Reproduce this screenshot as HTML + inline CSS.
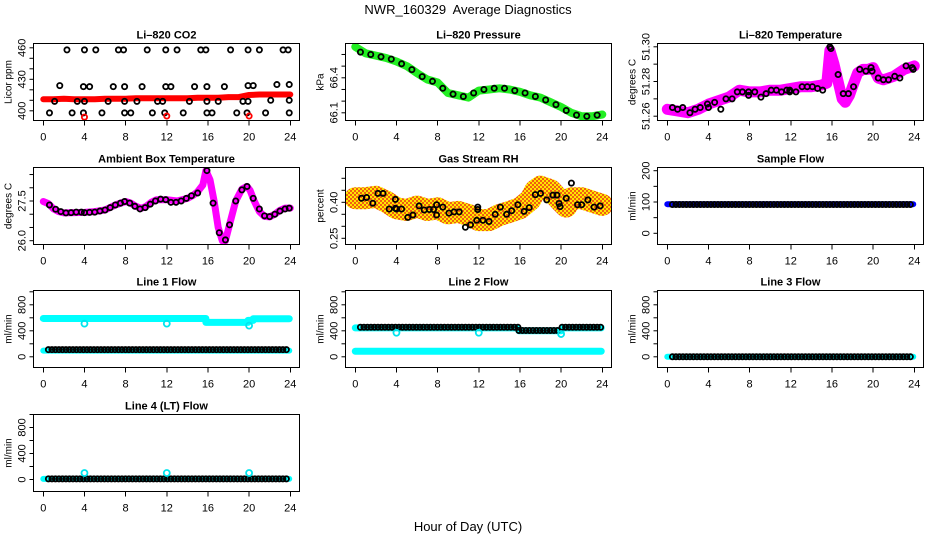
<!DOCTYPE html>
<html><head><meta charset="utf-8">
<style>
html,body{margin:0;padding:0;background:#fff;}
svg{display:block;font-family:"Liberation Sans",Arial,sans-serif;}
</style></head>
<body>
<svg id="chart" width="936" height="540" viewBox="0 0 936 540" xmlns="http://www.w3.org/2000/svg">
<defs>
<pattern id="rhpat" width="4" height="4" patternUnits="userSpaceOnUse">
<rect width="4" height="4" fill="#ffe600"/>
<rect x="0" y="0" width="2" height="2" fill="#f06010"/>
<rect x="2" y="2" width="2" height="2" fill="#f06010"/>
</pattern>
</defs>
<text x="468" y="14" text-anchor="middle" font-size="13" xml:space="preserve">NWR_160329  Average Diagnostics</text>
<text x="468" y="531" text-anchor="middle" font-size="13">Hour of Day (UTC)</text>
</svg>
<script>
// ---------- data ----------
const xTicks = [0,4,8,12,16,20,24];
// CO2
const co2RedHours = [0,1,2,3,4,5,6,7,8,9,10,11,12,13,14,15,16,17,18,19,20,21,22,23,24];
const co2RedVals = [411,411,411.5,411,411,411,411.5,411.5,411.5,412,412,412,412,412,412,412.5,412.5,412.5,413,413,415,415.5,415.5,415.5,415.5];
const co2BlackHours = [0.6,1.1,1.6,2.3,2.8,3.3,3.9,3.9,4.0,4.0,4.5,5.1,5.7,6.3,6.8,7.3,7.8,7.9,7.9,7.9,8.5,9.1,9.6,10.1,10.6,11.1,11.6,11.8,11.9,11.9,12.4,13.0,13.6,14.2,14.7,15.3,15.8,15.9,15.9,15.9,16.4,17.0,17.6,18.2,18.8,19.4,19.8,19.9,19.9,19.9,20.4,21.0,21.6,22.1,22.7,23.3,23.8,23.9,23.9,23.9];
const co2BlackVals = [398,409,424,458,398,409,398,423,409,458,423,458,398,409,423,458,458,423,409,398,398,409,423,458,398,409,409,398,423,458,423,458,398,409,423,458,458,423,409,398,398,409,423,458,398,409,398,409,424,458,424,458,398,410,425,458,458,425,410,398];
const co2OutHours = [4.0,12.0,20.0];
const co2OutVals = [394,395,395];
// Pressure
const presHours = [0,1,2,3,4,5,6,7,8,9,10,11,12,13,14,15,16,17,18,19,20,21,22,23,24];
const presGreen = [66.665,66.61,66.59,66.57,66.54,66.50,66.44,66.385,66.36,66.27,66.25,66.23,66.29,66.30,66.31,66.30,66.28,66.25,66.23,66.19,66.15,66.10,66.07,66.07,66.085];
const presBlackHours = [0.5,1.5,2.5,3.5,4.5,5.5,6.5,7.5,8.5,9.5,10.5,11.5,12.5,13.5,14.5,15.5,16.5,17.5,18.5,19.5,20.5,21.5,22.5,23.5];
const presBlack = [66.62,66.60,66.58,66.56,66.52,66.47,66.41,66.37,66.31,66.26,66.24,66.27,66.30,66.31,66.31,66.29,66.27,66.24,66.21,66.17,66.12,66.08,66.07,66.08];
// Li-820 Temperature
const tempHours = [0,1,2,3,4,5,6,7,8,9,10,11,12,13,14,15,15.5,15.8,16.2,16.6,17,17.3,17.7,18,18.5,19,19.5,20,20.5,21,22,23,24];
const tempMag = [51.264,51.263,51.262,51.264,51.267,51.269,51.271,51.275,51.274,51.274,51.275,51.275,51.276,51.277,51.277,51.278,51.279,51.298,51.290,51.280,51.270,51.268,51.272,51.277,51.285,51.287,51.287,51.288,51.282,51.281,51.283,51.287,51.289];
const tempBlackHours = [0.5,1,1.5,2.2,2.7,3.2,3.9,4,4.6,5.2,5.7,6.3,6.8,7.3,7.9,7.9,8.5,9.1,9.6,10.1,10.6,11.1,11.6,11.9,11.9,12.5,13.1,13.6,14.1,14.6,15.1,15.8,15.9,16.6,17.1,17.6,18.1,18.7,19.3,19.8,19.9,20.5,21,21.5,22.1,22.6,23.2,23.8,23.9];
const tempBlack = [51.265,51.264,51.265,51.262,51.264,51.265,51.267,51.265,51.268,51.264,51.27,51.27,51.274,51.274,51.274,51.272,51.274,51.271,51.273,51.275,51.275,51.274,51.275,51.275,51.274,51.274,51.277,51.277,51.277,51.276,51.275,51.300,51.299,51.284,51.273,51.273,51.277,51.287,51.286,51.288,51.286,51.282,51.281,51.281,51.283,51.282,51.289,51.288,51.287];
// Ambient box temperature
const ambHours = [0,0.5,1,1.5,2,3,4,5,6,7,8,8.5,9,9.5,10,10.5,11,12,13,14,14.5,15,15.5,15.8,16.2,16.6,17,17.4,17.7,18.1,18.7,19.3,19.8,20.1,20.5,21,21.5,22,22.5,23,23.5,24];
const ambMag = [27.48,27.4,27.2,27.1,27.05,27.06,27.07,27.1,27.16,27.35,27.48,27.42,27.3,27.22,27.3,27.45,27.55,27.55,27.5,27.6,27.7,27.85,28.1,28.65,28.3,27.5,26.5,26.0,26.0,26.6,27.5,27.95,28.05,27.9,27.5,27.1,26.92,26.9,27.0,27.15,27.23,27.23];
const ambBlackHours = [0.6,1.2,1.7,2.2,2.7,3.2,3.7,4.0,4.5,5.0,5.5,6.0,6.5,7.0,7.5,7.9,8.4,8.9,9.4,9.9,10.4,10.9,11.4,11.9,12.4,12.9,13.4,13.9,14.4,15.0,15.9,16.5,17.1,17.7,18.1,18.7,19.3,19.8,20.4,21.0,21.5,22.0,22.5,23.0,23.5,23.9];
const ambBlack = [27.35,27.19,27.1,27.05,27.06,27.08,27.08,27.06,27.07,27.08,27.12,27.16,27.25,27.35,27.42,27.48,27.42,27.3,27.2,27.25,27.38,27.5,27.57,27.55,27.45,27.45,27.5,27.6,27.7,27.8,28.65,27.42,26.3,26.03,26.6,27.5,27.92,28.05,27.6,27.2,26.94,26.91,27.0,27.12,27.2,27.23];
// Gas stream RH
const rhHours = [0,1,2,3,4,5,6,7,8,9,10,11,12,13,14,15,16,17,17.5,18,19,20,20.5,21,22,23,24];
const rhCloud = [0.417,0.417,0.423,0.403,0.375,0.368,0.382,0.368,0.375,0.354,0.36,0.347,0.326,0.326,0.347,0.36,0.375,0.41,0.45,0.465,0.45,0.403,0.382,0.417,0.417,0.403,0.389];
const rhBlackHours = [0.6,1.1,1.7,2.2,2.7,3.3,3.9,3.9,4.0,4.5,5.1,5.6,6.2,6.7,7.2,7.6,7.9,7.9,8.5,9.1,9.6,10.1,10.7,11.2,11.8,11.9,11.9,12.4,13.0,13.6,14.1,14.7,15.2,15.8,16.4,16.9,17.5,18.0,18.6,19.2,19.6,19.8,19.9,20.5,21.0,21.6,22.0,22.6,23.2,23.8];
const rhBlack = [0.417,0.42,0.396,0.437,0.437,0.372,0.412,0.375,0.372,0.372,0.337,0.347,0.385,0.368,0.37,0.37,0.39,0.347,0.38,0.355,0.36,0.36,0.296,0.306,0.325,0.37,0.38,0.325,0.32,0.35,0.38,0.35,0.365,0.39,0.362,0.378,0.432,0.437,0.41,0.43,0.43,0.395,0.382,0.417,0.48,0.39,0.39,0.41,0.38,0.385];
// Flows: segments [startHour, endHour, value]
const sampleBlue = [[0,23.9,93]];
const sampleBlack = [[0.5,23.9,92]];
const line1CyanHigh = [[0,15.8,590],[15.8,19.9,530],[19.9,20.4,560],[20.4,23.9,585]];
const line1CyanLow = [[0,23.9,95]];
const line1Black = [[0.5,23.9,110]];
const line1OutHours = [4,12,20];
const line1OutVals = [510,510,480];
const line2CyanHigh = [[0,15.8,445],[15.9,20,400],[20.1,23.9,445]];
const line2CyanLow = [[0,23.9,85]];
const line2Black = [[0.5,15.8,455],[15.9,19.9,405],[20.1,23.9,455]];
const line2OutHours = [4,12,20];
const line2OutVals = [370,370,350];
const line3Cyan = [[0,23.9,0]];
const line3Black = [[0.5,23.9,0]];
const line4Cyan = [[0,23.9,10]];
const line4Black = [[0.5,23.9,10]];
const line4OutHours = [4,12,20];
const line4OutVals = [100,100,100];

// ---------- drawing ----------
const NS = "http://www.w3.org/2000/svg";
const svg = document.getElementById('chart');
const colBox = [33.5,345.5,657.5], colX0 = [43.3,355.3,667.3], PXH = 10.29, BOXW = 266;
const rowTop = [43.5,167.5,290.5,414.5], BOXH = 77;

function el(tag, attrs, parent){
  const e = document.createElementNS(NS, tag);
  for (const k in attrs) e.setAttribute(k, attrs[k]);
  (parent||svg).appendChild(e);
  return e;
}

function makePanel(cfg){
  const g = el('g', {});
  
  
  const L = colBox[cfg.col], T = rowTop[cfg.row], B = T + BOXH;
  const x = h => colX0[cfg.col] + h * PXH;
  const y = v => T + cfg.p1 + (v - cfg.v1) * (cfg.p2 - cfg.p1) / (cfg.v2 - cfg.v1);
  const clip = 'clip' + cfg.name;
  const cp = el('clipPath', {id:clip}, g);
  el('rect', {x:L, y:T, width:BOXW, height:BOXH}, cp);
  const marks = el('g', {'clip-path':`url(#${clip})`}, g);
  
  
  const box = el('rect', {x:L, y:T, width:BOXW, height:BOXH, fill:'none', stroke:'#000', 'stroke-width':1, 'shape-rendering':'crispEdges'}, g);
  
  
  const t = el('text', {x:L+BOXW/2, y:T-5, 'text-anchor':'middle', 'font-size':11, 'font-weight':'bold'}, g);
  t.textContent = cfg.title;
  
  
  // x axis
  const xa = el('g', {'shape-rendering':'crispEdges'}, g);
  
  
  xTicks.forEach(h => {
    el('line', {x1:x(h), x2:x(h), y1:B, y2:B+5, stroke:'#000'}, xa);
    const tx = el('text', {x:x(h), y:B+20, 'text-anchor':'middle', 'font-size':11}, xa);
    tx.textContent = h;
    
    
  });
  // y axis
  const ya = el('g', {}, g);
  
  
  cfg.ticks.forEach(v => { const py=y(v); if(py>=T-1 && py<=B+1) el('line', {x1:L-4, x2:L, y1:py, y2:py, stroke:'#000'}, ya); });
  cfg.labels.forEach((v,i) => {
    const py = y(v);
    const tx = el('text', {x:0, y:0, 'text-anchor':'middle', 'font-size':11, transform:`translate(${L-8},${py}) rotate(-90)`}, ya);
    tx.textContent = cfg.labelText[i];
    
    
  });
  const yl = el('text', {x:0, y:0, 'text-anchor':'middle', 'font-size':10, transform:`translate(${L-22},${T+BOXH/2}) rotate(-90)`}, g);
  yl.textContent = cfg.ylab;
  
  
  return {g:marks, x, y};
}

function line(p, hours, vals, color, w, name){
  const pts = hours.map((h,i) => p.x(h).toFixed(1)+','+p.y(vals[i]).toFixed(1)).join(' ');
  const e = el('polyline', {points:pts, fill:'none', stroke:color, 'stroke-width':w, 'stroke-linejoin':'round', 'stroke-linecap':'round'}, p.g);
  
  
}
function points(p, hours, vals, color, name, r){
  hours.forEach((h,i) => {
    const c = el('circle', {cx:p.x(h), cy:p.y(vals[i]), r:r||2.6, fill:'none', stroke:color, 'stroke-width':1.8}, p.g);
    
    
  });
}
function segLines(p, segs, color, w, name){
  segs.forEach(s => {
    const e = el('line', {x1:p.x(s[0]), x2:p.x(s[1]), y1:p.y(s[2]), y2:p.y(s[2]), stroke:color, 'stroke-width':w, 'stroke-linecap':'round'}, p.g);
    
    
  });
}
function segPoints(p, segs, color, name){
  segs.forEach(s => {
    for (let h = s[0]; h <= s[1] + 1e-6; h += 0.34) {
      const c = el('circle', {cx:p.x(h), cy:p.y(s[2]), r:2.6, fill:'none', stroke:color, 'stroke-width':1.8}, p.g);
      
      
    }
  });
}

// Panel 1: CO2
let p = makePanel({name:'li820-co2-panel', col:0, row:0, title:'Li\u2013820 CO2', ylab:'Licor ppm', v1:400, p1:67.3, v2:460, p2:4.3,
  ticks:[400,410,420,430,440,450,460], labels:[400,430,460], labelText:['400','430','460']});
line(p, co2RedHours, co2RedVals, '#ff0000', 6, 'co2-red-series');
points(p, co2BlackHours, co2BlackVals, '#000', 'co2-black-point');
points(p, co2OutHours, co2OutVals, '#ff0000', 'co2-red-outlier');

// Panel 2: Pressure
p = makePanel({name:'li820-pressure-panel', col:1, row:0, title:'Li\u2013820 Pressure', ylab:'kPa', v1:66.1, p1:69.3, v2:66.4, p2:34.3,
  ticks:[66.1,66.2,66.3,66.4,66.5,66.6], labels:[66.1,66.4], labelText:['66.1','66.4']});
line(p, presHours, presGreen, '#22ee22', 8, 'pressure-green-series');
points(p, presBlackHours, presBlack, '#000', 'pressure-black-point');

// Panel 3: Li-820 Temperature
p = makePanel({name:'li820-temperature-panel', col:2, row:0, title:'Li\u2013820 Temperature', ylab:'degrees C', v1:51.26, p1:72.7, v2:51.30, p2:3.3,
  ticks:[51.26,51.27,51.28,51.29,51.30], labels:[51.26,51.28,51.30], labelText:['51.26','51.28','51.30']});
line(p, tempHours, tempMag, '#ff00ff', 11, 'temperature-magenta-series');
points(p, tempBlackHours, tempBlack, '#000', 'temperature-black-point');

// Panel 4: Ambient
p = makePanel({name:'ambient-box-temperature-panel', col:0, row:1, title:'Ambient Box Temperature', ylab:'degrees C', v1:26, p1:73.2, v2:27.5, p2:33.5,
  ticks:[26,26.5,27,27.5,28,28.5], labels:[26,27.5], labelText:['26.0','27.5']});
line(p, ambHours, ambMag, '#ff00ff', 7, 'ambient-magenta-series');
points(p, ambBlackHours, ambBlack, '#000', 'ambient-black-point');

// Panel 5: Gas stream RH
p = makePanel({name:'gas-stream-rh-panel', col:1, row:1, title:'Gas Stream RH', ylab:'percent', v1:0.25, p1:70.8, v2:0.40, p2:34.8,
  ticks:[0.25,0.30,0.35,0.40,0.45,0.50], labels:[0.25,0.40], labelText:['0.25','0.40']});
line(p, rhHours, rhCloud, 'url(#rhpat)', 22, 'rh-cloud');
points(p, rhBlackHours, rhBlack, '#000', 'rh-black-point');

// Panel 6: Sample flow
p = makePanel({name:'sample-flow-panel', col:2, row:1, title:'Sample Flow', ylab:'ml/min', v1:0, p1:65.8, v2:200, p2:3.2,
  ticks:[0,50,100,150,200], labels:[0,100,200], labelText:['0','100','200']});
segLines(p, sampleBlue, '#0000ff', 6, 'sample-flow-blue');
segPoints(p, sampleBlack, '#000', 'sample-flow-black-point');

const flowTicks = [0,200,400,600,800,1000], flowLab = [0,400,800], flowLabT = ['0','400','800'];
// Panel 7: Line 1
p = makePanel({name:'line1-flow-panel', col:0, row:2, title:'Line 1 Flow', ylab:'ml/min', v1:0, p1:66.3, v2:800, p2:14.3, ticks:flowTicks, labels:flowLab, labelText:flowLabT});
segLines(p, line1CyanHigh, '#00ffff', 7, 'line1-cyan-high');
segLines(p, line1CyanLow, '#00ffff', 6, 'line1-cyan-low');
segPoints(p, line1Black, '#000', 'line1-black-point');
points(p, line1OutHours, line1OutVals, '#00e5ee', 'line1-cyan-outlier', 3);

// Panel 8: Line 2
p = makePanel({name:'line2-flow-panel', col:1, row:2, title:'Line 2 Flow', ylab:'ml/min', v1:0, p1:66.3, v2:800, p2:14.3, ticks:flowTicks, labels:flowLab, labelText:flowLabT});
segLines(p, line2CyanHigh, '#00ffff', 7, 'line2-cyan-high');
segLines(p, line2CyanLow, '#00ffff', 7, 'line2-cyan-low');
segPoints(p, line2Black, '#000', 'line2-black-point');
points(p, line2OutHours, line2OutVals, '#00e5ee', 'line2-cyan-outlier', 3);

// Panel 9: Line 3
p = makePanel({name:'line3-flow-panel', col:2, row:2, title:'Line 3 Flow', ylab:'ml/min', v1:0, p1:66.3, v2:800, p2:14.3, ticks:flowTicks, labels:flowLab, labelText:flowLabT});
segLines(p, line3Cyan, '#00ffff', 6, 'line3-cyan');
segPoints(p, line3Black, '#000', 'line3-black-point');

// Panel 10: Line 4
p = makePanel({name:'line4-flow-panel', col:0, row:3, title:'Line 4 (LT) Flow', ylab:'ml/min', v1:0, p1:65, v2:800, p2:13, ticks:flowTicks, labels:flowLab, labelText:flowLabT});
segLines(p, line4Cyan, '#00ffff', 6, 'line4-cyan');
segPoints(p, line4Black, '#000', 'line4-black-point');
points(p, line4OutHours, line4OutVals, '#00e5ee', 'line4-cyan-outlier', 3);
</script>
</body></html>
